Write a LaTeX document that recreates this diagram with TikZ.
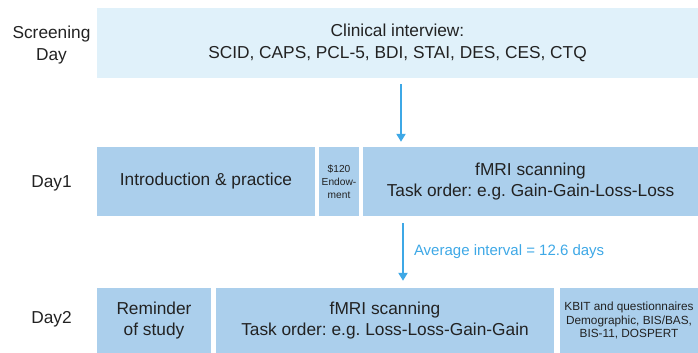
\documentclass[tikz,border=0pt]{standalone}
\usepackage{fontspec}
\setmainfont{Liberation Sans}
\usetikzlibrary{arrows.meta,calc}
\definecolor{scrfill}{HTML}{E0F1FA}
\definecolor{dayfill}{HTML}{ABCFEC}
\definecolor{arrblue}{HTML}{3EA8E6}
\definecolor{txt}{HTML}{222222}
\frenchspacing
\tikzset{
  box/.style={rectangle, inner sep=0pt, align=center, text=txt,
    font=\fontsize{17.3}{21.5}\selectfont},
  scrbox/.style={box, fill=scrfill},
  daybox/.style={box, fill=dayfill},
  smallbox/.style={daybox, font=\fontsize{10.2}{13}\selectfont},
  qbox/.style={daybox, font=\fontsize{11.8}{13.3}\selectfont},
  lbl/.style={align=center, text=txt, inner sep=0pt,
    font=\fontsize{17.3}{22}\selectfont},
  arr/.style={draw=arrblue, line width=2pt, -{Triangle[width=9pt,length=8pt]}},
  arrlbl/.style={text=arrblue, inner sep=0pt, font=\fontsize{15}{18}\selectfont},
}
\begin{document}
\begin{tikzpicture}[x=1pt,y=-1pt]
\useasboundingbox (0,0) rectangle (698,353);
% Row labels
\node[lbl] (lscr) at (51.5,45) {Screening\\Day};
\node[lbl] (ld1) at (51.5,183) {Day1};
\node[lbl] (ld2) at (51.5,319) {Day2};
% Screening day
\node[scrbox, minimum width=601pt, minimum height=70pt] (scr) at (397.5,43)
  {Clinical interview:\\SCID, CAPS, PCL-5, BDI, STAI, DES, CES, CTQ};
% Day 1
\node[daybox, minimum width=218pt, minimum height=69pt] (intro) at (206,181.5)
  {Introduction \& practice};
\node[smallbox, minimum width=40pt, minimum height=69pt] (endow) at (339,181.5)
  {\$120\\Endow-\\ment};
\node[daybox, minimum width=335pt, minimum height=69pt] (d1f) at (530.5,181.5)
  {fMRI scanning\\Task order: e.g. Gain-Gain-Loss-Loss};
% Day 2
\node[daybox, minimum width=114pt, minimum height=65pt] (rem) at (154,320.5)
  {Reminder\\of study};
\node[daybox, minimum width=338pt, minimum height=65pt] (d2f) at (385,320.5)
  {fMRI scanning\\Task order: e.g. Loss-Loss-Gain-Gain};
\node[qbox, minimum width=138pt, minimum height=65pt] (kbit) at (629,320.5)
  {KBIT and questionnaires\\Demographic, BIS/BAS,\\BIS-11, DOSPERT};
% Arrows
\coordinate (a1) at (401,0);
\coordinate (a2) at (403,0);
\draw[arr] ($(scr.south -| a1)+(0,6)$) -- ($(d1f.north -| a1)+(0,-5)$);
\draw[arr] ($(d1f.south -| a2)+(0,7)$) -- ($(d2f.north -| a2)+(0,-7)$)
  node[midway, right, xshift=10pt, arrlbl] (ival) {Average interval = 12.6 days};
\end{tikzpicture}
\end{document}
